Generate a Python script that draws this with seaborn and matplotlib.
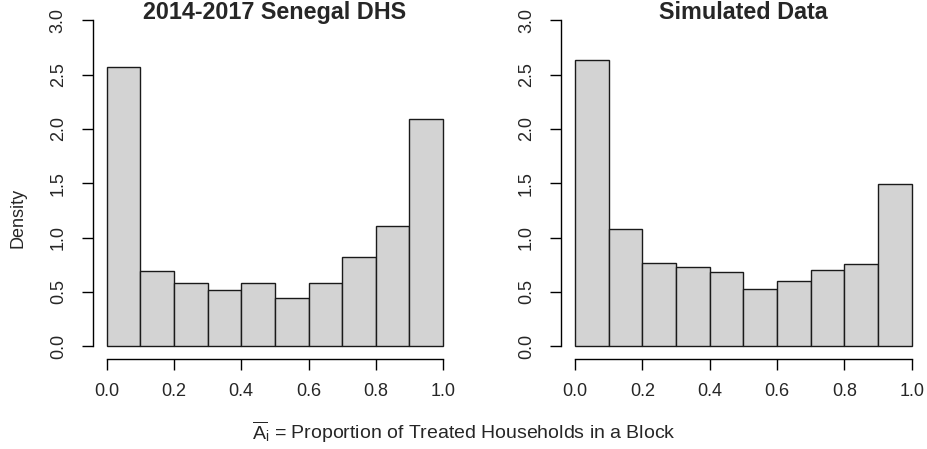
import numpy as np
import pandas as pd
import matplotlib
matplotlib.use("Agg")
import matplotlib.pyplot as plt
import seaborn as sns

# bin edges of the histograms and the density of each bin
BIN_EDGES = [0.0, 0.1, 0.2, 0.3, 0.4, 0.5, 0.6, 0.7, 0.8, 0.9, 1.0]
SENEGAL_DENSITY = [2.57, 0.69, 0.58, 0.515, 0.58, 0.44, 0.58, 0.825, 1.11, 2.095]
SIMULATED_DENSITY = [2.635, 1.083, 0.77, 0.73, 0.687, 0.531, 0.604, 0.70, 0.758, 1.497]
PANEL_TITLES = ["2014-2017 Senegal DHS", "Simulated Data"]
X_TICKS = [0.0, 0.2, 0.4, 0.6, 0.8, 1.0]
Y_TICKS = [0.0, 0.5, 1.0, 1.5, 2.0, 2.5, 3.0]

sns.set_style("ticks")
plt.rcParams["font.family"] = ["Liberation Sans", "DejaVu Sans"]
plt.rcParams["mathtext.fontset"] = "custom"
plt.rcParams["mathtext.rm"] = "Liberation Sans"
plt.rcParams["mathtext.it"] = "Liberation Sans"


def draw_panel(ax, density, title):
    edges = np.array(BIN_EDGES)
    mids = (edges[:-1] + edges[1:]) / 2
    df = pd.DataFrame({"x": mids, "density": density})
    sns.histplot(
        data=df,
        x="x",
        weights="density",
        binwidth=edges[1] - edges[0],
        binrange=(edges[0], edges[-1]),
        stat="count",
        color="#d3d3d3",
        edgecolor="#1a1a1a",
        linewidth=1.0,
        alpha=1.0,
        ax=ax,
    )
    ax.set_xlim(-0.04, 1.04)
    ax.set_ylim(-0.12, 3.12)
    ax.set_xticks(X_TICKS)
    ax.set_xticklabels([f"{t:.1f}" for t in X_TICKS])
    ax.set_yticks(Y_TICKS)
    ax.set_yticklabels([f"{t:.1f}" for t in Y_TICKS], rotation=90, va="center")
    ax.spines["top"].set_visible(False)
    ax.spines["right"].set_visible(False)
    ax.spines["left"].set_bounds(0, 3)
    ax.spines["bottom"].set_bounds(0, 1)
    for s in ("left", "bottom"):
        ax.spines[s].set_linewidth(1.0)
        ax.spines[s].set_color("black")
    ax.tick_params(axis="both", length=8, width=1.0, color="black", labelsize=13)
    ax.tick_params(axis="x", pad=9)
    ax.tick_params(axis="y", pad=11)
    ax.set_xlabel("")
    ax.set_ylabel("")
    ax.text(0.5, 0.967, title, transform=ax.transAxes, ha="center", va="baseline",
            fontsize=16.8, fontweight="bold")


fig = plt.figure(figsize=(9.27, 4.49), dpi=100)
ax1 = fig.add_axes([0.1005, 0.1998, 0.392, 0.784])
ax2 = fig.add_axes([0.6057, 0.1998, 0.3923, 0.784])

draw_panel(ax1, SENEGAL_DENSITY, PANEL_TITLES[0])
draw_panel(ax2, SIMULATED_DENSITY, PANEL_TITLES[1])

fig.text(18 / 927, 1 - 218 / 449, "Density", rotation=90, ha="center", va="center", fontsize=13)
fig.text(0.5, 1 - 432 / 449,
         r"$\overline{\mathrm{A}}_{\mathrm{i}}$ = Proportion of Treated Households in a Block",
         ha="center", va="center", fontsize=14)

fig.savefig("out.png", dpi=100)
